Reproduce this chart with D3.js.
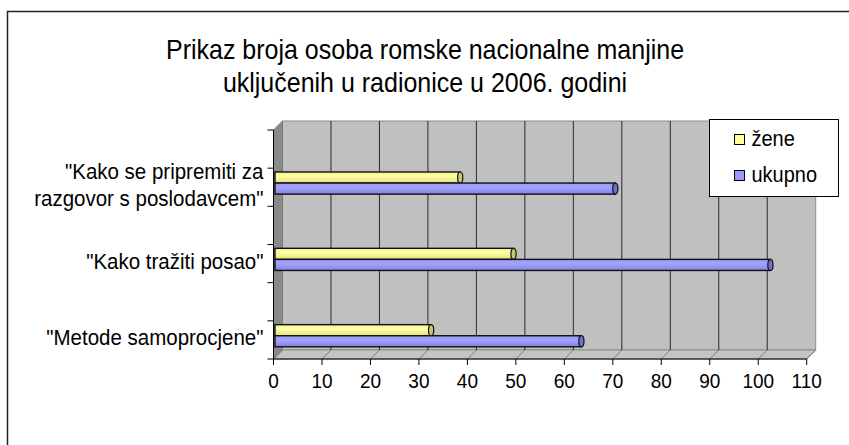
<!DOCTYPE html>
<html>
<head>
<meta charset="utf-8">
<script src="https://cdn.jsdelivr.net/npm/d3@7"></script>
<style>
  body { margin: 0; background: #fff; }
  text { font-family: "Liberation Sans", Arial, sans-serif; fill: #000; }
</style>
</head>
<body>
<div id="chart"></div>
<script>
// data
const categories = ['"Metode samoprocjene"', '"Kako tražiti posao"', '"Kako se pripremiti za \nrazgovor s poslodavcem"'];
const zene = [32, 49, 38];
const ukupno = [63, 102, 70];
const xTicks = [0, 10, 20, 30, 40, 50, 60, 70, 80, 90, 100, 110];
const seriesNames = ["žene", "ukupno"];
const titleLines = ["Prikaz broja osoba romske nacionalne manjine", "uključenih u radionice u 2006. godini"];

function BarChart3D(divID) {
    let width = 849, height = 445;

    // plot box (front plane) and 3d depth
    let plot = {left: 273.5, right: 806.7, top: 130, bottom: 359};
    let depth = {dx: 9, dy: -9};
    let stretch = 1.1; // the original text is a bit taller than Arial

    let svg = d3.select("#" + divID).append("svg")
        .attr("width", width)
        .attr("height", height);

    // text placed at baseline (tx, ty), stretched vertically
    function place(sel, tx, ty) {
        return sel.attr("transform", function (d, i) {
            return "translate(" + tx(d, i) + "," + ty(d, i) + ") scale(1," + stretch + ")";
        });
    }

    let defs = svg.append("defs");
    function barGradient(id, light, mid, dark) {
        let g = defs.append("linearGradient").attr("id", id)
            .attr("x1", 0).attr("y1", 0).attr("x2", 0).attr("y2", 1);
        g.append("stop").attr("offset", "0%").attr("stop-color", mid);
        g.append("stop").attr("offset", "35%").attr("stop-color", light);
        g.append("stop").attr("offset", "100%").attr("stop-color", dark);
    }
    barGradient("gZene", "#ffffa8", "#f2f290", "#e2e27a");
    barGradient("gUkupno", "#a4a4ff", "#9494f4", "#8282e4");

    // outer chart area border
    svg.append("rect")
        .attr("x", 7.5).attr("y", 11.5)
        .attr("width", 900).attr("height", 500)
        .attr("fill", "#fff")
        .attr("stroke", "#222")
        .attr("stroke-width", 1.5);

    let x = d3.scaleLinear().domain([0, 110]).range([plot.left, plot.right]);
    let y = d3.scaleBand().domain(categories).range([plot.bottom, plot.top]);
    let bw = y.bandwidth();

    // back wall
    svg.append("rect")
        .attr("x", plot.left + depth.dx)
        .attr("y", plot.top + depth.dy)
        .attr("width", plot.right - plot.left)
        .attr("height", plot.bottom - plot.top)
        .attr("fill", "#c0c0c0")
        .attr("stroke", "#8c8c8c");

    // side wall
    svg.append("polygon")
        .attr("points", [
            [plot.left, plot.top], [plot.left + depth.dx, plot.top + depth.dy],
            [plot.left + depth.dx, plot.bottom + depth.dy], [plot.left, plot.bottom]
        ].join(" "))
        .attr("fill", "#8a8a8a")
        .attr("stroke", "#7a7a7a");

    // floor
    svg.append("polygon")
        .attr("points", [
            [plot.left, plot.bottom], [plot.right, plot.bottom],
            [plot.right + depth.dx, plot.bottom + depth.dy], [plot.left + depth.dx, plot.bottom + depth.dy]
        ].join(" "))
        .attr("fill", "#c4c4c4")
        .attr("stroke", "#8c8c8c");

    // gridlines on the back wall
    svg.append("g").selectAll("line")
        .data(xTicks.filter(function (d) { return d > 0 && d < 110; }))
        .enter().append("line")
        .attr("x1", function (d) { return x(d) + depth.dx; })
        .attr("x2", function (d) { return x(d) + depth.dx; })
        .attr("y1", plot.top + depth.dy)
        .attr("y2", plot.bottom + depth.dy)
        .attr("stroke", "#2a2a2a")
        .attr("stroke-width", 1);

    // floor gridlines
    svg.append("g").selectAll("line")
        .data(xTicks)
        .enter().append("line")
        .attr("x1", function (d) { return x(d); })
        .attr("x2", function (d) { return x(d) + depth.dx; })
        .attr("y1", plot.bottom)
        .attr("y2", plot.bottom + depth.dy)
        .attr("stroke", "#7c7c7c");

    // bars
    let barH = bw * 0.145;
    let shift = 2.5; // bars sit a little behind the front plane
    let series = [
        {name: seriesNames[0], values: zene, fill: "url(#gZene)", cap: "#c8c870", off: 0.55},
        {name: seriesNames[1], values: ukupno, fill: "url(#gUkupno)", cap: "#6e6ed0", off: 0.55 + 0.145}
    ];
    let bars = svg.append("g");
    series.forEach(function (s) {
        let g = bars.append("g");
        g.selectAll("rect")
            .data(s.values)
            .enter().append("rect")
            .attr("x", x(0) + 1.5)
            .attr("y", function (d, i) { return y(categories[i]) + bw * s.off; })
            .attr("width", function (d) { return x(d) - x(0) + shift - 1.5; })
            .attr("height", barH)
            .attr("fill", s.fill)
            .attr("stroke", "#111")
            .attr("stroke-width", 1.4);
        g.selectAll("ellipse")
            .data(s.values)
            .enter().append("ellipse")
            .attr("cx", function (d) { return x(d) + shift; })
            .attr("cy", function (d, i) { return y(categories[i]) + bw * s.off + barH / 2; })
            .attr("rx", 2.6)
            .attr("ry", barH / 2)
            .attr("fill", s.cap)
            .attr("stroke", "#111")
            .attr("stroke-width", 1.2);
    });

    // x axis
    svg.append("line")
        .attr("x1", plot.left).attr("x2", plot.right)
        .attr("y1", plot.bottom).attr("y2", plot.bottom)
        .attr("stroke", "#000");
    let xt = svg.append("g").selectAll("g")
        .data(xTicks)
        .enter().append("g")
        .attr("transform", function (d) { return "translate(" + x(d) + "," + plot.bottom + ")"; });
    xt.append("line").attr("y2", 6).attr("stroke", "#000");
    place(xt.append("text"), function () { return 0; }, function () { return 29; })
        .attr("text-anchor", "middle")
        .style("font-size", "19px")
        .text(function (d) { return d; });

    // y axis
    svg.append("line")
        .attr("x1", plot.left).attr("x2", plot.left)
        .attr("y1", plot.top).attr("y2", plot.bottom)
        .attr("stroke", "#000");
    let yTicks = [];
    categories.forEach(function (c) { yTicks.push(y(c), y(c) + bw / 2); });
    yTicks.push(plot.bottom);
    svg.append("g").selectAll("line")
        .data(yTicks)
        .enter().append("line")
        .attr("x1", plot.left - 6).attr("x2", plot.left)
        .attr("y1", function (d) { return d; })
        .attr("y2", function (d) { return d; })
        .attr("stroke", "#000");

    // category labels, one text per line
    let labelLines = [];
    categories.forEach(function (c) {
        let lines = c.split("\n");
        lines.forEach(function (l, i) {
            labelLines.push({text: l, cy: y(c) + bw * 0.72 + (i - (lines.length - 1) / 2) * 27});
        });
    });
    place(svg.append("g").selectAll("text")
        .data(labelLines)
        .enter().append("text"),
        function () { return plot.left - 10; },
        function (d) { return d.cy + 7.5; })
        .attr("text-anchor", "end")
        .style("font-size", "20.5px")
        .text(function (d) { return d.text; });

    // title
    place(svg.append("g").selectAll("text")
        .data(titleLines)
        .enter().append("text"),
        function () { return 425; },
        function (d, i) { return 58.5 + i * 33; })
        .attr("text-anchor", "middle")
        .style("font-size", "25px")
        .text(function (d) { return d; });

    // legend
    let legend = svg.append("g").attr("transform", "translate(709.5,119.5)");
    legend.append("rect")
        .attr("width", 129).attr("height", 77)
        .attr("fill", "#fff")
        .attr("stroke", "#000");
    let li = legend.selectAll("g.item")
        .data(series)
        .enter().append("g")
        .attr("class", "item")
        .attr("transform", function (d, i) { return "translate(25," + (15 + i * 36) + ")"; });
    li.append("rect")
        .attr("width", 10).attr("height", 10)
        .attr("fill", function (d, i) { return i === 0 ? "#ffff99" : "#9999ff"; })
        .attr("stroke", "#000");
    place(li.append("text"), function () { return 17; }, function () { return 11; })
        .style("font-size", "20px")
        .text(function (d) { return d.name; });
}

BarChart3D("chart");
</script>
</body>
</html>
